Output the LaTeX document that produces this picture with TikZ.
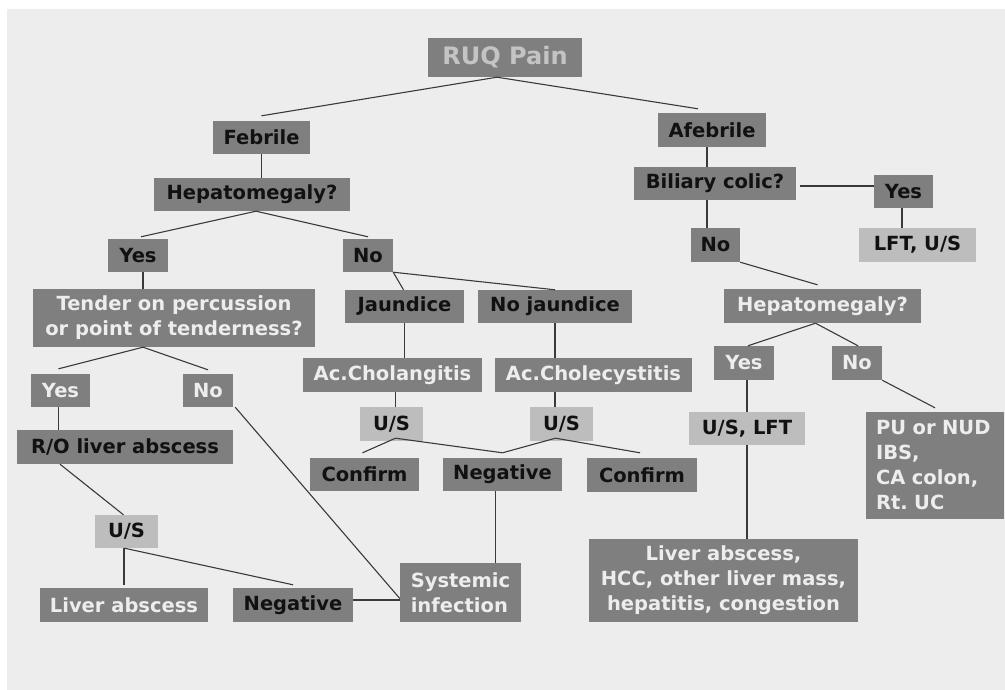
\documentclass[tikz,border=0pt]{standalone}
\usepackage{fontspec}
\setmainfont{DejaVu Sans}
\usetikzlibrary{calc}
\frenchspacing

\definecolor{pagebg}{HTML}{EDEDED}
\definecolor{boxdark}{HTML}{7F7F7F}
\definecolor{boxpale}{HTML}{BDBDBD}
\definecolor{txtlight}{HTML}{EDEDED}
\definecolor{txtdark}{HTML}{111111}
\definecolor{titletxt}{HTML}{C4C4C4}
\definecolor{linkc}{HTML}{3A3A3A}

\newcommand{\boxfont}{\fontsize{19.5}{25}\selectfont\bfseries}

\tikzset{
  box/.style={fill=boxdark, inner sep=0pt, font=\boxfont, align=center},
  dk/.style={box, text=txtdark},
  lt/.style={box, text=txtlight},
  pale/.style={box, fill=boxpale, text=txtdark},
  wh/.style 2 args={minimum width=#1, minimum height=#2},
  link/.style={draw=linkc, line width=1.1pt}
}

\begin{document}
\begin{tikzpicture}[x=1pt, y=-1pt]
\useasboundingbox (0,0) rectangle (1005,690);
\fill[white] (0,0) rectangle (1005,690);
\fill[pagebg] (7,9) rectangle (1005,690);

% root
\node[box, wh={154}{39}, text=titletxt, font=\fontsize{24}{28}\selectfont\bfseries] (ruq) at (505,57.5) {RUQ Pain};

% febrile branch
\node[dk, wh={97}{33}]  (feb)  at (261.5,137.5) {Febrile};
\node[dk, wh={196}{33}] (hepL) at (252,194.5) {Hepatomegaly?};
\node[dk, wh={60}{33}]  (yesL) at (138,255.5) {Yes};
\node[dk, wh={50}{33}]  (noL)  at (368,255.5) {No};
\node[lt, wh={282}{58}] (tend) at (174,318) {Tender on percussion\\or point of tenderness?};
\node[dk, wh={119}{33}] (jaun) at (404.5,306.5) {Jaundice};
\node[dk, wh={154}{33}] (nojn) at (555,306.5) {No jaundice};
\node[lt, wh={179}{34}] (chol) at (392.5,375) {Ac.Cholangitis};
\node[lt, wh={197}{34}] (chcy) at (593.5,375) {Ac.Cholecystitis};
\node[lt, wh={59}{33}]  (yes2) at (60.5,390.5) {Yes};
\node[lt, wh={50}{33}]  (no2)  at (208,390.5) {No};
\node[pale, wh={63}{34}] (usL) at (391.5,424) {U/S};
\node[pale, wh={63}{34}] (usM) at (561.5,424) {U/S};
\node[dk, wh={216}{34}] (ro)   at (125,447) {R/O liver abscess};
\node[dk, wh={109}{33}] (cfL)  at (364.5,474.5) {Confirm};
\node[dk, wh={119}{33}] (negM) at (502.5,474.5) {Negative};
\node[dk, wh={110}{34}] (cfR)  at (642,475) {Confirm};
\node[pale, wh={63}{33}] (usB) at (126.5,531.5) {U/S};
\node[lt, wh={168}{34}] (labs) at (124,605) {Liver abscess};
\node[dk, wh={120}{34}] (negB) at (293,605) {Negative};
\node[lt, wh={121}{59}, align=left] (sys) at (460.5,592.5) {Systemic\\infection};

% afebrile branch
\node[dk, wh={108}{34}] (afeb) at (712,130) {Afebrile};
\node[dk, wh={162}{33}] (bil)  at (715,183.5) {Biliary colic?};
\node[dk, wh={59}{33}]  (yesR) at (903.5,191.5) {Yes};
\node[pale, wh={117}{34}] (lftus) at (917.5,245) {LFT, U/S};
\node[dk, wh={49}{34}]  (noR)  at (715.5,245) {No};
\node[lt, wh={197}{34}] (hepR) at (822.5,306) {Hepatomegaly?};
\node[lt, wh={60}{34}]  (yes3) at (744,363) {Yes};
\node[lt, wh={50}{34}]  (no3)  at (857,363) {No};
\node[pale, wh={116}{33}] (uslft) at (747,428.5) {U/S, LFT};
\node[lt, wh={138}{107}, align=left, text width=118] (pu) at (935,465.5) {PU or NUD\\IBS,\\CA colon,\\Rt. UC};
\node[lt, wh={269}{83}] (lbig) at (723.5,580.5) {Liver abscess,\\HCC, other liver mass,\\hepatitis, congestion};

% connectors
\draw[link] ([xshift=-8pt]ruq.south) -- ([yshift=5pt]feb.north);
\draw[link] ([xshift=-8pt]ruq.south) -- ([xshift=-14pt,yshift=4pt]afeb.north);
\draw[link] (feb.south) -- (feb.south |- hepL.north);
\draw[link] ([xshift=4pt]hepL.south) -- ([xshift=3pt,yshift=2pt]yesL.north);
\draw[link] ([xshift=4pt]hepL.south) -- ([yshift=2pt]noL.north);
\draw[link] ([xshift=5pt]yesL.south) -- ([xshift=5pt]yesL.south |- tend.north);
\draw[link] (noL.south east) -- ([xshift=-1pt]jaun.north);
\draw[link] (noL.south east) -- (nojn.north);
\draw[link] ([xshift=-31pt]tend.south) -- ([xshift=-2pt,yshift=5pt]yes2.north);
\draw[link] ([xshift=-31pt]tend.south) -- ([yshift=4pt]no2.north);
\draw[link] ([xshift=-2pt]yes2.south) -- ([xshift=-2pt]yes2.south |- ro.north);
\draw[link] ([xshift=2pt]no2.south east) -- ([yshift=-6pt]sys.west);
\draw[link] (jaun.south) -- (jaun.south |- chol.north);
\draw[link] ([xshift=4pt]usL.north) -- ([xshift=4pt]usL.north |- chol.south);
\draw[link] (nojn.south) -- (nojn.south |- chcy.north);
\draw[link] (nojn.south |- chcy.south) -- (nojn.south |- usM.north);
\draw[link] ([xshift=4pt,yshift=3pt]usL.south) -- ([xshift=-2pt,yshift=5pt]cfL.north);
\draw[link] ([xshift=4pt,yshift=3pt]usL.south) -- ([yshift=5pt]negM.north);
\draw[link] ([xshift=-6pt,yshift=3pt]usM.south) -- ([yshift=5pt]negM.north);
\draw[link] ([xshift=-6pt,yshift=3pt]usM.south) -- ([xshift=-2pt,yshift=5pt]cfR.north);
\draw[link] ([xshift=-7pt]negM.south) -- ([xshift=-7pt]negM.south |- sys.north);
\draw[link] ([xshift=-65pt]ro.south) -- ([xshift=-3pt]usB.north);
\draw[link] (labs.north |- usB.south) -- ([yshift=3pt]labs.north);
\draw[link] ([xshift=-2pt]usB.south) -- ([yshift=3pt]negB.north);
\draw[link] ([yshift=5pt]negB.east) -- ([yshift=5pt]negB.east -| sys.west);

\draw[link] ([xshift=-5pt]afeb.south) -- ([xshift=-5pt]afeb.south |- bil.north);
\draw[link] ([xshift=4pt,yshift=-2.5pt]bil.east) -- ([yshift=-2.5pt]bil.east -| yesR.west);
\draw[link] ([xshift=-1.5pt]yesR.south) -- ([xshift=-1.5pt]yesR.south |- lftus.north);
\draw[link] ([xshift=-8pt]bil.south) -- ([xshift=-8pt]bil.south |- noR.north);
\draw[link] (noR.south east) -- ([xshift=-5pt,yshift=4pt]hepR.north);
\draw[link] ([xshift=-7pt]hepR.south) -- ([xshift=4pt]yes3.north);
\draw[link] ([xshift=-7pt]hepR.south) -- ([xshift=1pt]no3.north);
\draw[link] (uslft.north |- yes3.south) -- (uslft.north);
\draw[link] (uslft.south) -- (uslft.south |- lbig.north);
\draw[link] (no3.south east) -- ([yshift=4pt]pu.north);
\end{tikzpicture}
\end{document}
